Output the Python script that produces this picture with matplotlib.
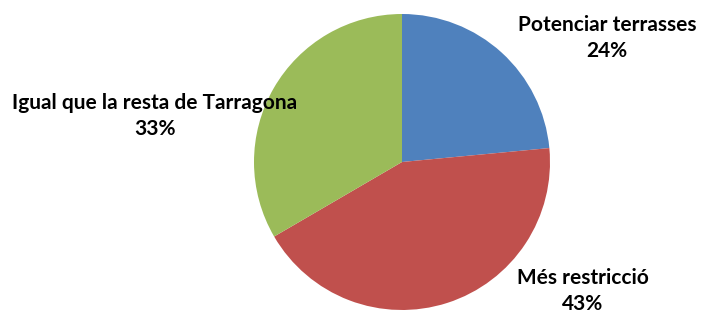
import matplotlib
matplotlib.use("Agg")
import matplotlib.pyplot as plt

categories = ["Potenciar terrasses", "Més restricció", "Igual que la resta de Tarragona"]
values = [23.5, 43.1, 33.4]
pct_labels = ["24%", "43%", "33%"]
colors = ["#4F81BD", "#C0504D", "#9BBB59"]

W, H = 701, 310
fig = plt.figure(figsize=(W/100, H/100), dpi=100)
cx, cy, r = 402, 162, 148
ax = fig.add_axes([(cx - r)/W, (H - cy - r)/H, 2*r/W, 2*r/H])
ax.pie(values, colors=colors, startangle=90, counterclock=False,
       wedgeprops=dict(linewidth=0))
ax.set_xlim(-1, 1)
ax.set_ylim(-1, 1)
ax.set_aspect("equal")
ax.axis("off")

# label positions in pixels (x center, y of first line)
label_pos = [(607, 25), (583, 278), (155, 103)]
font = dict(family=["Lato", "DejaVu Sans"], weight="bold", size=15, color="#000000")
for (x, y), name, pct in zip(label_pos, categories, pct_labels):
    fig.text(x/W, 1 - y/H, name, ha="center", va="center", **font)
    fig.text(x/W, 1 - (y + 26)/H, pct, ha="center", va="center", **font)

fig.savefig("out.png", dpi=100)
